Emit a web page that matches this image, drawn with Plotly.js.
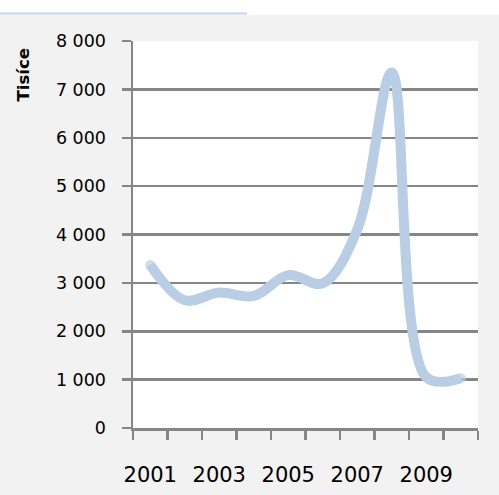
<!DOCTYPE html>
<html>
<head>
<meta charset="utf-8">
<script src="https://cdn.plot.ly/plotly-3.0.1.min.js"></script>
<style>html,body{margin:0;padding:0;background:#fff;}#chart{width:499px;height:495px;}</style>
</head>
<body>
<div id="chart"></div>
<script>
var years = [2001, 2002, 2003, 2004, 2005, 2006, 2007, 2008, 2009, 2010];
var values = [3370, 2640, 2800, 2730, 3160, 2990, 4100, 7350, 1050, 1030];
var yTickVals = [0, 1000, 2000, 3000, 4000, 5000, 6000, 7000, 8000];
var yTickText = ['0', '1 000', '2 000', '3 000', '4 000', '5 000', '6 000', '7 000', '8 000'];
var xTickVals = [2001, 2003, 2005, 2007, 2009];
var xTickText = ['2001', '2003', '2005', '2007', '2009'];
var yTitle = 'Tisíce';

var endSizes = values.map(function (v, i) { return (i === 0 || i === values.length - 1) ? 10 : 0; });

var axisColor = '#868686';
var trace = {
  x: years, y: values, type: 'scatter', mode: 'lines+markers',
  line: {color: '#b9cde5', width: 10, shape: 'spline', smoothing: 1},
  marker: {color: '#b9cde5', size: endSizes, line: {width: 0}},
  hoverinfo: 'skip'
};

var layout = {
  width: 499, height: 495,
  margin: {l: 133, r: 21, t: 41, b: 67, pad: 0},
  paper_bgcolor: '#f2f2f2', plot_bgcolor: '#ffffff',
  showlegend: false,
  font: {family: 'DejaVu Sans', color: '#000000'},
  xaxis: {
    type: 'linear', range: [2000.5, 2010.5], fixedrange: true,
    tickmode: 'array', tickvals: xTickVals, ticktext: xTickText,
    ticks: '', showgrid: false, zeroline: false,
    showline: true, linecolor: axisColor, linewidth: 2.5,
    tickfont: {family: 'DejaVu Sans', size: 21, color: '#000'},
    ticklabelstandoff: 26,
    minor: {tick0: 2000.5, dtick: 1, ticks: 'outside', ticklen: 9, tickwidth: 2.5, tickcolor: axisColor, showgrid: false}
  },
  yaxis: {
    range: [0, 8000], fixedrange: true,
    tickmode: 'array', tickvals: yTickVals, ticktext: yTickText,
    ticks: 'outside', ticklen: 9, tickwidth: 2.5, tickcolor: axisColor,
    showgrid: true, gridcolor: axisColor, gridwidth: 2.5,
    zeroline: false, showline: true, linecolor: axisColor, linewidth: 2.5,
    tickfont: {family: 'DejaVu Sans', size: 17.5, color: '#000'},
    ticklabelstandoff: 12
  },
  shapes: [
    {type: 'rect', xref: 'paper', yref: 'paper', x0: -0.4, x1: 1.1, y0: (428 - 15) / 387, y1: 1.12,
      fillcolor: '#ffffff', line: {width: 0}, layer: 'below'},
    {type: 'line', xref: 'paper', yref: 'paper', x0: -0.3855, x1: 0.3304, y0: (428 - 13.5) / 387, y1: (428 - 13.5) / 387,
      line: {color: '#c6d4e6', width: 2}}
  ],
  annotations: [
    {text: '<b>' + yTitle + '</b>', xref: 'paper', yref: 'paper', x: (22.5 - 133) / 345, y: (428 - 75) / 387,
      xanchor: 'center', yanchor: 'middle', textangle: -90, showarrow: false,
      font: {family: 'DejaVu Sans', size: 16.5, color: '#000'}}
  ]
};

Plotly.newPlot('chart', [trace], layout, {displayModeBar: false, staticPlot: true});
</script>
</body>
</html>
